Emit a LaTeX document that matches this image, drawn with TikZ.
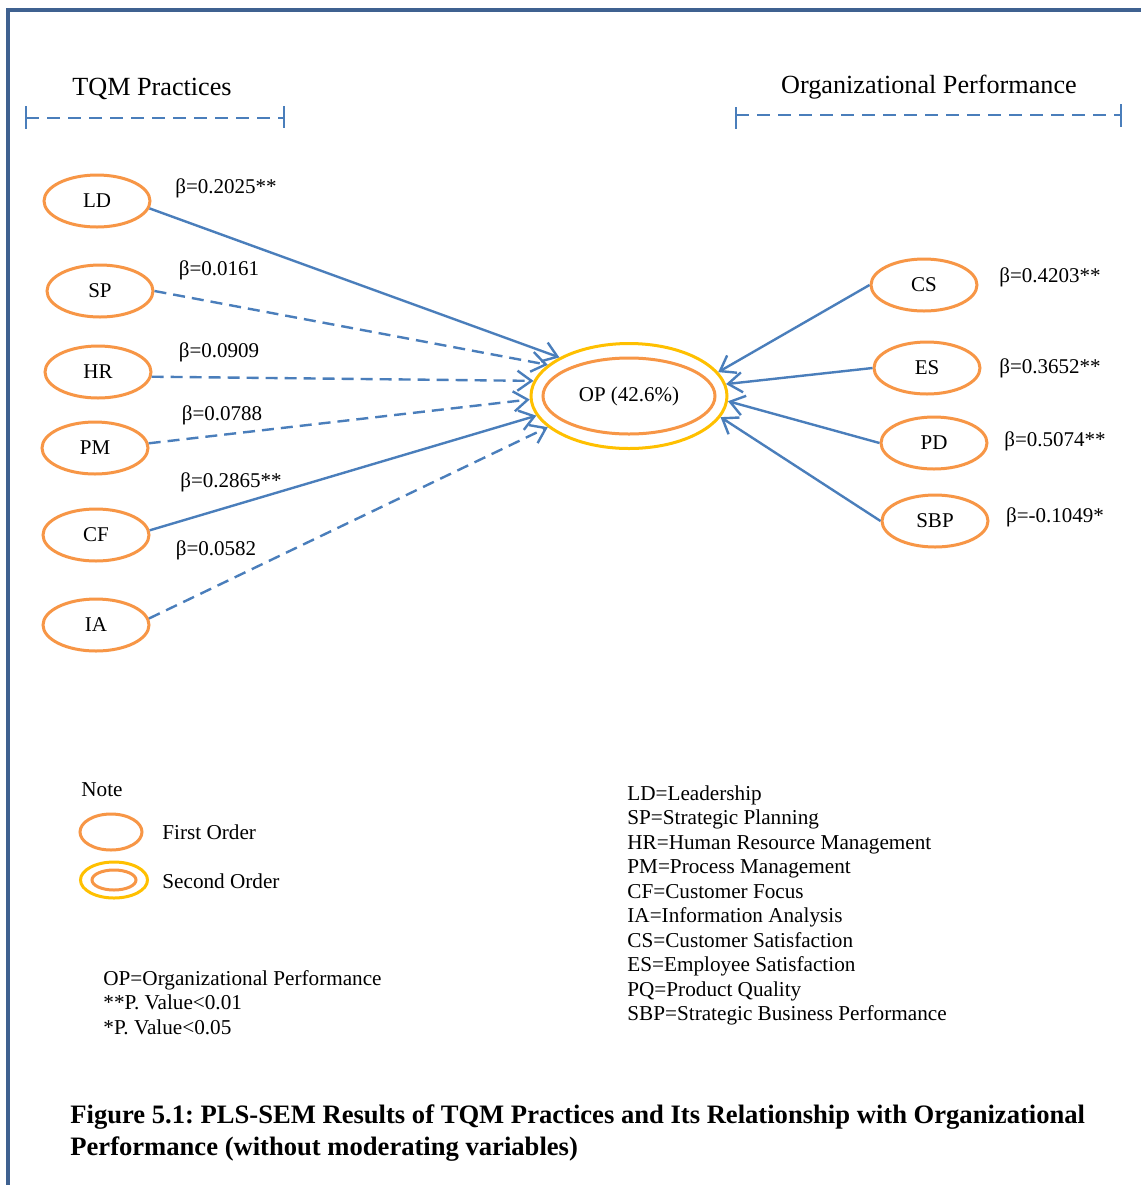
\documentclass[tikz,border=0pt]{standalone}
\usepackage{fontspec}
\setmainfont{Liberation Serif}
\usetikzlibrary{arrows.meta,shapes.geometric}
\definecolor{framec}{HTML}{3F6190}
\definecolor{lineblue}{HTML}{4A7EBB}
\definecolor{ordor}{HTML}{F79646}
\definecolor{yel}{HTML}{FFC000}
\begin{document}
\frenchspacing
\begin{tikzpicture}[x=0.5pt,y=-0.5pt,
  fo/.style={ellipse,draw=ordor,line width=1.5pt,minimum width=53pt,minimum height=26pt,inner sep=0pt,font=\fontsize{10.5}{12}\selectfont},
  lbl/.style={font=\fontsize{10.5}{12}\selectfont,inner sep=0pt},
  ttl/.style={font=\fontsize{13.1}{15}\selectfont,inner sep=0pt},
  conn/.style={draw=lineblue,line width=1.2pt,-{Straight Barb[length=7pt,width=10pt,line width=1.2pt]}},
  dsh/.style={dash pattern=on 6pt off 3.5pt},
  brk/.style={draw=lineblue,line width=1pt},
  note/.style={font=\fontsize{10.6}{12}\selectfont,inner sep=0pt,anchor=base west},
  capt/.style={font=\fontsize{13.3}{16}\bfseries,inner sep=0pt,anchor=base west},
]
\useasboundingbox[fill=white] (0,0) rectangle (1141,1185);
% frame
\draw[framec,line width=2pt] (8,1185) -- (8,10) -- (1141,10);

% headings
\node[ttl] (tqm) at (152,89) {TQM Practices};
\node[ttl] (orgp) at (929,87) {Organizational Performance};
\draw[brk,dash pattern=on 6.5pt off 4pt] (26,118) -- (284,118);
\draw[brk] (26,106) -- (26,129);
\draw[brk] (284,106) -- (284,128);
\draw[brk,dash pattern=on 6.5pt off 4pt] (736,115) -- (1121,115);
\draw[brk] (736,107) -- (736,129);
\draw[brk] (1121,104) -- (1121,127);

% first order constructs (left)
\node[fo] (LD) at (97,201) {LD};
\node[fo] (SP) at (100,291) {SP};
\node[fo] (HR) at (98,372) {HR};
\node[fo] (PM) at (95,448) {PM};
\node[fo] (CF) at (96,535) {CF};
\node[fo] (IA) at (96,625) {IA};
% right
\node[fo] (CS) at (924,285) {CS};
\node[fo] (ES) at (927,368) {ES};
\node[fo] (PD) at (934,443) {PD};
\node[fo] (SBP) at (935,521) {SBP};

% second order
\node[ellipse,draw=yel,line width=1.5pt,minimum width=98pt,minimum height=52.5pt,inner sep=0pt] (OP) at (629,396) {};
\node[ellipse,draw=ordor,line width=1.5pt,minimum width=86pt,minimum height=38pt,inner sep=0pt,font=\fontsize{10.5}{12}\selectfont] (OPin) at (629,396) {OP (42.6\%)};

% connectors
\draw[conn] (LD.-8) -- (OP.151);
\draw[conn,dsh] (SP.east) -- (OP.159);
\draw[conn,dsh] (HR.-5) -- (OP.171);
\draw[conn,dsh] (PM.5) -- (OP.182);
\draw[conn] (CF.5) -- (OP.192);
\draw[conn,dsh] (IA.7) -- (OP.201);
\draw[conn] (CS.west) -- (OP.15);
\draw[conn] (ES.west) -- (OP.7);
\draw[conn] (PD.west) -- (OP.-3);
\draw[conn] (SBP.west) -- (OP.-13);

% coefficients
\node[lbl] (bLD) at (226,188) {β=0.2025**};
\node[lbl] (bSP) at (219,270) {β=0.0161};
\node[lbl] (bHR) at (219,352) {β=0.0909};
\node[lbl] (bPM) at (222,415) {β=0.0788};
\node[lbl] (bCF) at (231,482) {β=0.2865**};
\node[lbl] (bIA) at (216,550) {β=0.0582};
\node[lbl] (bCS) at (1050,277) {β=0.4203**};
\node[lbl] (bES) at (1050,368) {β=0.3652**};
\node[lbl] (bPD) at (1055,441) {β=0.5074**};
\node[lbl] (bSBP) at (1055,517) {β=-0.1049*};

% legend
\node[note] (noteT) at (81,796) {Note};
\node[ellipse,draw=ordor,line width=1.5pt,minimum width=31pt,minimum height=18pt,inner sep=0pt] (lgF) at (111,832) {};
\node[note] (lgFt) at (162,839) {First Order};
\node[ellipse,draw=yel,line width=1.5pt,minimum width=33.5pt,minimum height=18pt,inner sep=0pt] (lgS) at (114,880) {};
\node[ellipse,draw=ordor,line width=1.5pt,minimum width=22pt,minimum height=10pt,inner sep=0pt] (lgSi) at (114,880) {};
\node[note] (lgSt) at (162,888) {Second Order};

\node[note] (n1) at (103,985) {OP=Organizational Performance};
\node[note] (n2) at (103,1009) {**P. Value<0.01};
\node[note] (n3) at (103,1034) {*P. Value<0.05};

\foreach \t [count=\i from 0] in {LD=Leadership,SP=Strategic Planning,HR=Human Resource Management,PM=Process Management,CF=Customer Focus,IA=Information Analysis,CS=Customer Satisfaction,ES=Employee Satisfaction,PQ=Product Quality,SBP=Strategic Business Performance}
  \node[note] (abbr\i) at (627,800+24.55*\i) {\t};

% caption
\node[capt] (cap1) at (70,1123) {Figure 5.1: PLS-SEM Results of TQM Practices and Its Relationship with Organizational};
\node[capt] (cap2) at (70,1155) {Performance (without moderating variables)};
\end{tikzpicture}
\end{document}
